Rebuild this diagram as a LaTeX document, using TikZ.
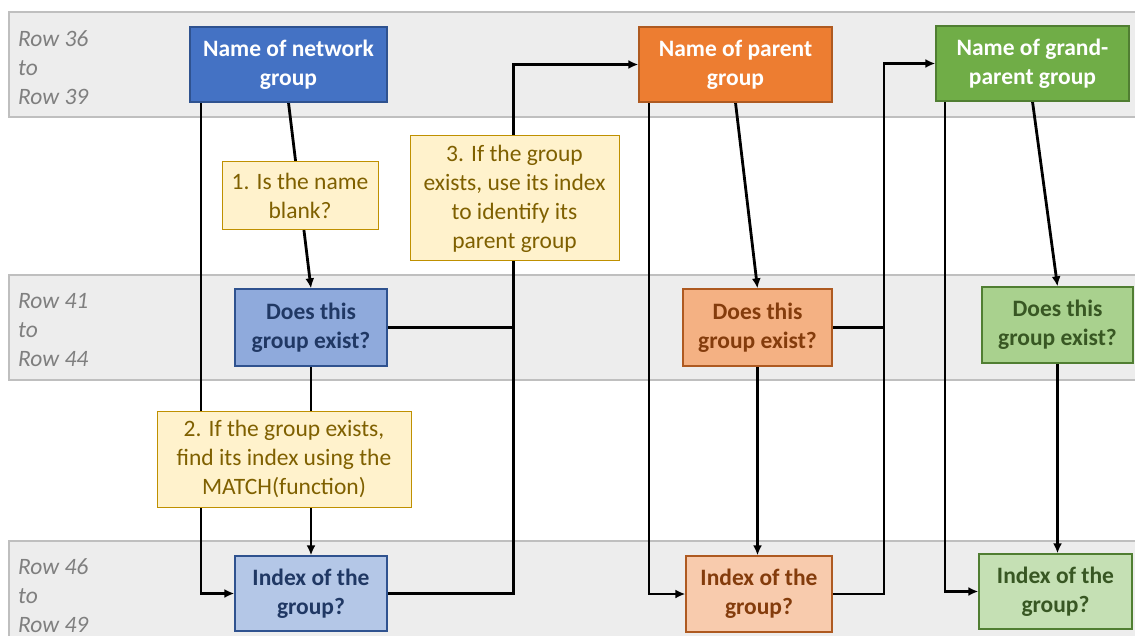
\documentclass[tikz,border=0pt]{standalone}
\usepackage{fontspec}
\setmainfont{Carlito}
\usetikzlibrary{arrows.meta}
\definecolor{bandfill}{HTML}{EDEDED}
\definecolor{banddraw}{HTML}{BFBFBF}
\definecolor{rowgray}{HTML}{7F7F7F}
\definecolor{blueA}{HTML}{4472C4}
\definecolor{blueB}{HTML}{8FAADC}
\definecolor{blueC}{HTML}{B4C7E7}
\definecolor{blueD}{HTML}{2F528F}
\definecolor{blueT}{HTML}{203864}
\definecolor{orA}{HTML}{ED7D31}
\definecolor{orB}{HTML}{F4B183}
\definecolor{orC}{HTML}{F8CBAD}
\definecolor{orD}{HTML}{AE5A21}
\definecolor{orT}{HTML}{843C0C}
\definecolor{grA}{HTML}{70AD47}
\definecolor{grB}{HTML}{A9D18E}
\definecolor{grC}{HTML}{C5E0B4}
\definecolor{grD}{HTML}{507E32}
\definecolor{grT}{HTML}{385723}
\definecolor{noteF}{HTML}{FFF2CC}
\definecolor{noteD}{HTML}{BF9000}
\definecolor{noteT}{HTML}{7F6000}
\pgfdeclarelayer{bands}
\pgfdeclarelayer{conn}
\pgfsetlayers{bands,conn,main}
\tikzset{
  bx/.style={draw, line width=1.3pt, inner sep=0pt, align=center, font=\fontsize{23.5}{29}\selectfont\bfseries},
  note/.style={draw=noteD, fill=noteF, text=noteT, line width=1pt, inner sep=0pt, align=center, font=\fontsize{23.5}{29}\selectfont},
  rowlbl/.style={text=rowgray, inner sep=0pt, align=left, anchor=north west, font=\fontsize{23.5}{29}\selectfont\itshape},
  band/.style={fill=bandfill, draw=banddraw, line width=1.5pt},
  conline/.style={line width=2.8pt, line join=miter},
  arr/.style={conline, -{Latex[length=10pt,width=9pt]}},
}
\begin{document}
\begin{tikzpicture}[x=1pt,y=-1pt]
\useasboundingbox (0,0) rectangle (1135,636);
\begin{pgfonlayer}{bands}
\fill[white] (0,0) rectangle (1135,636);
\draw[band] (9,12) rectangle (1145,117);
\draw[band] (9,275) rectangle (1145,380);
\draw[band] (9,541) rectangle (1145,650);
\end{pgfonlayer}
\node[rowlbl] (r1) at (18,30) {Row 36\\to\\Row 39};
\node[rowlbl] (r2) at (18,293) {Row 41\\to\\Row 44};
\node[rowlbl] (r3) at (18,558) {Row 46\\to\\Row 49};
% top row
\node[bx, fill=blueA, draw=blueD, text=white, minimum width=197pt, minimum height=75pt] (N1) at (288.5,64.5) {Name of network\\group};
\node[bx, fill=orA, draw=orD, text=white, minimum width=193pt, minimum height=75pt] (N2) at (735.5,64.5) {Name of parent\\group};
\node[bx, fill=grA, draw=grD, text=white, minimum width=193pt, minimum height=75pt] (N3) at (1032.5,63.5) {Name of grand-\\parent group};
% middle row
\node[bx, fill=blueB, draw=blueD, text=blueT, minimum width=152pt, minimum height=77pt] (D1) at (311,327.5) {Does this\\group exist?};
\node[bx, fill=orB, draw=orD, text=orT, minimum width=149pt, minimum height=77pt] (D2) at (757.5,327.5) {Does this\\group exist?};
\node[bx, fill=grB, draw=grD, text=grT, minimum width=151pt, minimum height=76pt] (D3) at (1057.5,325) {Does this\\group exist?};
% bottom row
\node[bx, fill=blueC, draw=blueD, text=blueT, minimum width=152pt, minimum height=75pt] (I1) at (311,593.5) {Index of the\\group?};
\node[bx, fill=orC, draw=orD, text=orT, minimum width=146pt, minimum height=76pt] (I2) at (759,594) {Index of the\\group?};
\node[bx, fill=grC, draw=grD, text=grT, minimum width=153pt, minimum height=75pt] (I3) at (1055.5,591.5) {Index of the\\group?};
% notes
\node[note, minimum width=156pt, minimum height=68pt] (n1) at (300,196) {1. Is the name\\blank?};
\node[note, minimum width=209pt, minimum height=125pt] (n3) at (514.5,198.5) {3. If the group\\exists, use its index\\to identify its\\parent group};
\node[note, minimum width=254pt, minimum height=96pt] (n2) at (284,459) {2. If the group exists,\\find its index using the\\MATCH(function)};
% junction coordinates
\coordinate (c1) at (201,102);
\coordinate (c3) at (649,102);
\coordinate (c4) at (945,101);
\coordinate (j1) at (513.5,64.5);
\coordinate (j2) at (884,63.5);
\begin{pgfonlayer}{conn}
\draw[arr] (c1) |- (I1.west);
\draw[arr] (N1.south) -- (D1.north);
\draw[arr] (D1.south) -- (D1.south |- I1.north);
\draw[conline] (D1.east) -- (D1.east -| j1);
\draw[arr] (I1.east) -| (j1) -- (N2.west);
\draw[arr] (c3) |- (I2.west);
\draw[arr] (N2.south) -- (D2.north);
\draw[arr] (D2.south) -- (D2.south |- I2.north);
\draw[conline] (D2.east) -- (D2.east -| j2);
\draw[arr] (I2.east) -| (j2) -- (N3.west);
\draw[arr] (c4) |- (I3.west);
\draw[arr] (N3.south) -- (D3.north);
\draw[arr] (D3.south) -- (D3.south |- I3.north);
\end{pgfonlayer}
\end{tikzpicture}
\end{document}
